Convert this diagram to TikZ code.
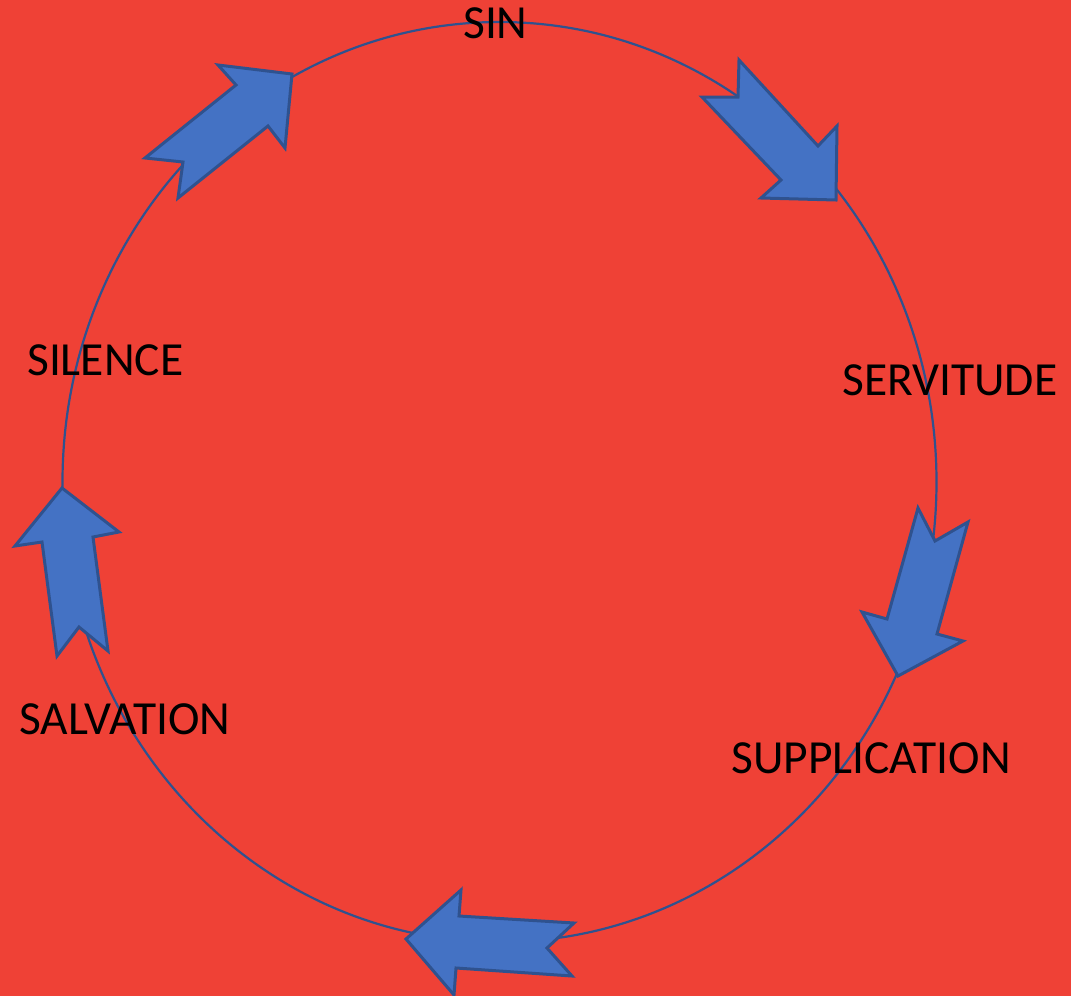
\documentclass[tikz,border=0pt]{standalone}
\usepackage{fontspec}
\setmainfont{Carlito}
\definecolor{bgred}{RGB}{239,65,54}
\definecolor{arrowfill}{RGB}{68,114,196}
\definecolor{arrowline}{RGB}{47,82,143}
\begin{document}
\begin{tikzpicture}[x=1pt,y=-1pt,
  blockarrow/.style={fill=arrowfill,draw=arrowline,line width=3pt,line join=miter},
  ring/.style={draw=arrowline,line width=2.2pt},
  label/.style={anchor=base west,inner sep=0pt,text=black,font=\fontsize{47.5}{57}\selectfont}]
\fill[bgred] (0,0) rectangle (1071,996);
\useasboundingbox (0,0) rectangle (1071,996);
% cycle ring
\draw[ring] (499.5,482) ellipse [x radius=437, y radius=460];
% block arrows
\draw[blockarrow] (292,74) -- (285,148) -- (268,126) -- (178,198) -- (183,162) -- (145,158) -- (236,85) -- (218,65) -- cycle;
\draw[blockarrow] (739,60) -- (818,146) -- (837,126) -- (836,200) -- (761,198) -- (781,180) -- (702,97) -- (738,97) -- cycle;
\draw[blockarrow] (918,508) -- (935,541) -- (968,522) -- (937,634) -- (963,641) -- (898,676) -- (862,612) -- (887,619) -- cycle;
\draw[blockarrow] (461,890) -- (459,916) -- (574,923) -- (547,948) -- (572,976) -- (456,968) -- (454,995) -- (406,939) -- cycle;
\draw[blockarrow] (62,488) -- (119,532) -- (93,537) -- (108,651) -- (79,627) -- (57,656) -- (42,542) -- (15,546) -- cycle;
% labels
\node[label] (sin) at (463,38) {SIN};
\node[label] (servitude) at (842,395) {SERVITUDE};
\node[label] (supplication) at (731,773) {SUPPLICATION};
\node[label] (salvation) at (19,734) {SALVATION};
\node[label] (silence) at (27,375) {SILENCE};
\end{tikzpicture}
\end{document}
